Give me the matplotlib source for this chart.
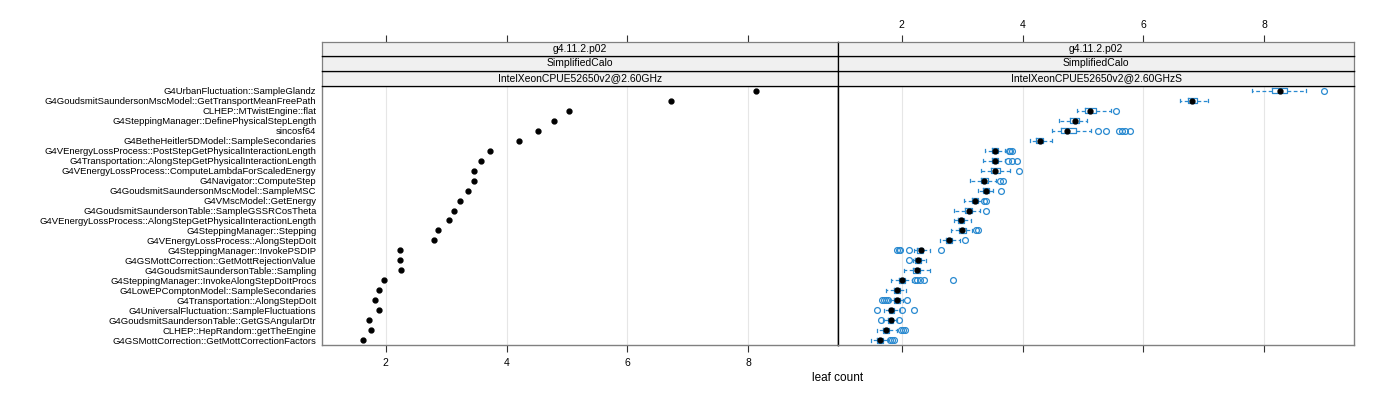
import matplotlib
matplotlib.use("Agg")
import matplotlib.pyplot as plt

plt.rcParams['font.family'] = ['Liberation Sans', 'DejaVu Sans']

functions = [
    "G4UrbanFluctuation::SampleGlandz",
    "G4GoudsmitSaundersonMscModel::GetTransportMeanFreePath",
    "CLHEP::MTwistEngine::flat",
    "G4SteppingManager::DefinePhysicalStepLength",
    "sincosf64",
    "G4BetheHeitler5DModel::SampleSecondaries",
    "G4VEnergyLossProcess::PostStepGetPhysicalInteractionLength",
    "G4Transportation::AlongStepGetPhysicalInteractionLength",
    "G4VEnergyLossProcess::ComputeLambdaForScaledEnergy",
    "G4Navigator::ComputeStep",
    "G4GoudsmitSaundersonMscModel::SampleMSC",
    "G4VMscModel::GetEnergy",
    "G4GoudsmitSaundersonTable::SampleGSSRCosTheta",
    "G4VEnergyLossProcess::AlongStepGetPhysicalInteractionLength",
    "G4SteppingManager::Stepping",
    "G4VEnergyLossProcess::AlongStepDoIt",
    "G4SteppingManager::InvokePSDIP",
    "G4GSMottCorrection::GetMottRejectionValue",
    "G4GoudsmitSaundersonTable::Sampling",
    "G4SteppingManager::InvokeAlongStepDoItProcs",
    "G4LowEPComptonModel::SampleSecondaries",
    "G4Transportation::AlongStepDoIt",
    "G4UniversalFluctuation::SampleFluctuations",
    "G4GoudsmitSaundersonTable::GetGSAngularDtr",
    "CLHEP::HepRandom::getTheEngine",
    "G4GSMottCorrection::GetMottCorrectionFactors",
]

# left panel: single leaf count values
leaf_count = [8.13, 6.72, 5.04, 4.79, 4.52, 4.21, 3.73, 3.58, 3.47, 3.47,
              3.36, 3.23, 3.14, 3.05, 2.87, 2.80, 2.24, 2.24, 2.26, 1.97,
              1.90, 1.83, 1.89, 1.73, 1.76, 1.62]

# right panel: box statistics
box_med = [8.26, 6.80, 5.12, 4.86, 4.73, 4.29, 3.54, 3.54, 3.54, 3.37,
           3.40, 3.21, 3.11, 2.99, 3.00, 2.78, 2.32, 2.28, 2.25, 2.01,
           1.92, 1.92, 1.83, 1.82, 1.74, 1.64]
box_q1 = [8.12, 6.74, 5.03, 4.78, 4.64, 4.23, 3.49, 3.49, 3.48, 3.31,
          3.35, 3.16, 3.05, 2.94, 2.95, 2.73, 2.26, 2.23, 2.19, 1.96,
          1.88, 1.88, 1.79, 1.77, 1.69, 1.59]
box_q3 = [8.38, 6.88, 5.22, 4.94, 4.88, 4.34, 3.59, 3.60, 3.63, 3.43,
          3.45, 3.26, 3.17, 3.04, 3.06, 2.84, 2.36, 2.33, 2.31, 2.05,
          1.97, 1.97, 1.88, 1.86, 1.80, 1.70]
box_lo = [7.80, 6.60, 4.90, 4.61, 4.49, 4.13, 3.38, 3.35, 3.32, 3.14,
          3.26, 3.03, 2.87, 2.87, 2.81, 2.64, 2.20, 2.19, 2.04, 1.83,
          1.75, 1.81, 1.71, 1.70, 1.59, 1.50]
box_hi = [8.69, 7.07, 5.46, 5.07, 5.14, 4.49, 3.71, 3.71, 3.79, 3.56,
          3.52, 3.34, 3.29, 3.15, 3.16, 2.96, 2.47, 2.40, 2.47, 2.17,
          2.07, 2.03, 1.97, 1.92, 1.92, 1.78]
box_out = [
    [8.98], [], [5.54], [], [5.25, 5.38, 5.59, 5.65, 5.69, 5.77], [],
    [3.78, 3.80, 3.82], [3.76, 3.82, 3.91], [3.95], [3.63, 3.67],
    [3.64], [3.37, 3.39], [3.40], [], [3.23, 3.26], [3.05],
    [1.92, 1.96, 1.98, 2.12, 2.65], [2.12], [],
    [2.22, 2.26, 2.31, 2.37, 2.85], [],
    [1.68, 1.71, 1.75, 1.78, 2.09], [1.59, 2.01, 2.20], [1.66, 1.96],
    [1.99, 2.03, 2.06], [1.81, 1.85, 1.88],
]

strip_left = ["g4.11.2.p02", "SimplifiedCalo", "IntelXeonCPUE52650v2@2.60GHz"]
strip_right = ["g4.11.2.p02", "SimplifiedCalo", "IntelXeonCPUE52650v2@2.60GHzS"]
xticks = [2, 4, 6, 8]
xlim = (0.95, 9.48)

BLUE = "#2a8ad0"
W, H = 1400, 400
fig = plt.figure(figsize=(14, 4), dpi=100)

x0, xm, x1 = 322 / W, 838 / W, 1354 / W
pb, pt = 1 - 345 / H, 1 - 86 / H
strip_edges = [86, 71, 56, 42]

n = len(functions)
ypos = list(range(n))

axL = fig.add_axes([x0, pb, xm - x0, pt - pb])
axR = fig.add_axes([xm, pb, x1 - xm, pt - pb], sharey=axL)

for ax in (axL, axR):
    ax.set_xlim(*xlim)
    ax.set_ylim(n - 0.5, -0.5)
    for xv in xticks:
        ax.axvline(xv, color="#e6e6e6", lw=0.8, zorder=0)
    for s in ax.spines.values():
        s.set_color("#808080")
        s.set_linewidth(1.0)
    ax.set_xticks(xticks)
    ax.tick_params(axis='x', direction='out', length=5, width=0.8,
                   color="#333333", labelsize=7.5, pad=4)

axL.spines['right'].set_color("black")
axR.spines['left'].set_color("black")

# left panel dots
axL.plot(leaf_count, ypos, 'o', color='black', ms=3.5, ls='none', zorder=3)
axL.set_yticks(ypos)
axL.set_yticklabels(functions, fontsize=6.8)
axL.tick_params(axis='y', length=0, pad=4)
axL.tick_params(axis='x', labelbottom=True)

# right panel boxes
stats = []
for i in range(n):
    stats.append(dict(med=box_med[i], q1=box_q1[i], q3=box_q3[i],
                      whislo=box_lo[i], whishi=box_hi[i], fliers=box_out[i]))
axR.bxp(stats, positions=ypos, orientation='horizontal', widths=0.5,
        capwidths=0.3, showcaps=True, showfliers=True, manage_ticks=False,
        boxprops=dict(color=BLUE, lw=0.9),
        whiskerprops=dict(color=BLUE, lw=0.9, ls=(0, (3, 2))),
        capprops=dict(color=BLUE, lw=0.9),
        medianprops=dict(lw=0),
        flierprops=dict(marker='o', mfc='none', mec=BLUE, ms=4.2, mew=0.9))
axR.plot(box_med, ypos, 'o', color='black', ms=3.5, ls='none', zorder=4)
axR.tick_params(axis='y', left=False, labelleft=False)
axR.tick_params(axis='x', labelbottom=False)

# strips
def make_strips(xa, xb, labels, top_ticks_labels):
    for k, lab in enumerate(labels[::-1]):
        ya = 1 - strip_edges[k] / H
        yb = 1 - strip_edges[k + 1] / H
        sax = fig.add_axes([xa, ya, xb - xa, yb - ya], sharex=axL if xa == x0 else axR)
        sax.set_facecolor("#f0f0f0")
        for s in sax.spines.values():
            s.set_color("black")
            s.set_linewidth(0.9)
        sax.spines['left'].set_color("#808080")
        sax.spines['right'].set_color("#808080")
        if xa == x0:
            sax.spines['right'].set_color("black")
        else:
            sax.spines['left'].set_color("black")
        sax.set_yticks([])
        sax.text(0.5, 0.5, lab, transform=sax.transAxes, ha='center',
                 va='center', fontsize=7.5)
        if k == 2:
            sax.spines['top'].set_color("#808080")
            sax.tick_params(axis='x', bottom=False, labelbottom=False,
                            top=True, labeltop=top_ticks_labels,
                            direction='out', length=5, width=0.8,
                            color="#333333", labelsize=7.5, pad=4)
        else:
            sax.tick_params(axis='x', bottom=False, labelbottom=False,
                            top=False, labeltop=False)

make_strips(x0, xm, strip_left, False)
make_strips(xm, x1, strip_right, True)

fig.text(xm, 1 - 378 / H, "leaf count", ha='center', va='center', fontsize=8.5)

fig.savefig("out.png", dpi=100)
